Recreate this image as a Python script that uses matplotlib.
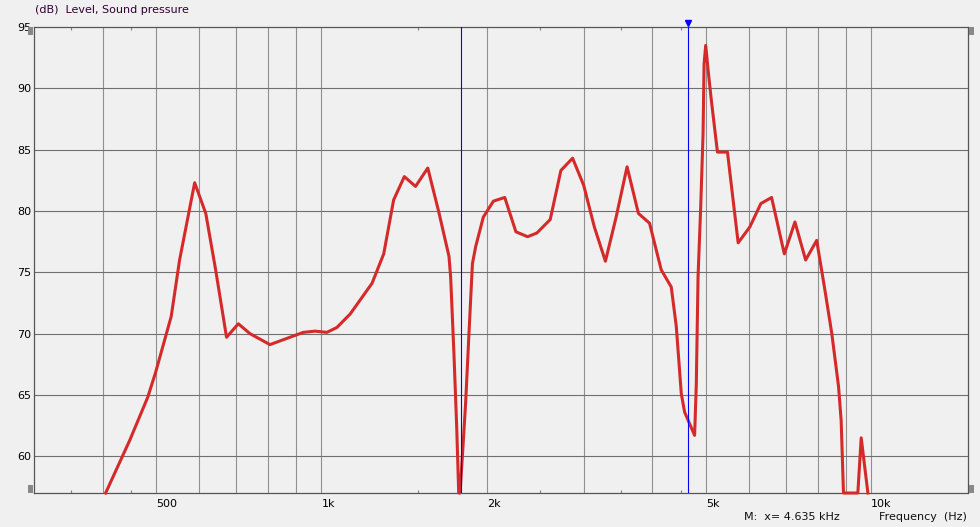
import matplotlib
matplotlib.use("Agg")
import matplotlib.pyplot as plt
from matplotlib.patches import Rectangle

# curve (Hz, dB)
freq_hz = [405, 448, 483, 499, 533, 552, 588, 616, 642, 672, 706, 741, 806, 927, 974,
           1023, 1067, 1128, 1236, 1298, 1353, 1415, 1483, 1561, 1635, 1706, 1718, 1741,
           1762, 1777, 1787, 1804, 1829, 1855, 1882, 1908, 1970, 2055, 2155, 2258, 2371,
           2465, 2607, 2726, 2863, 2999, 3136, 3285, 3436, 3597, 3772, 3952, 4150, 4328,
           4420, 4514, 4577, 4773, 4807, 4842, 4896, 4945, 4966, 5000, 5050, 5120, 5252,
           5477, 5728, 6016, 6299, 6589, 6950, 7266, 7599, 7959, 8241, 8479, 8721, 8818,
           8904, 9456, 9590, 9863]
level_db = [57, 61.3, 64.8, 66.8, 71.4, 76.0, 82.3, 79.8, 75.2, 69.7, 70.8, 70.0, 69.1, 70.1, 70.2,
            70.1, 70.5, 71.6, 74.1, 76.5, 80.9, 82.8, 82.0, 83.5, 79.9, 76.3, 74.6, 68.6,
            62.4, 57, 57, 59.9, 64.3, 70.0, 75.7, 77.1, 79.5, 80.8, 81.1, 78.3, 77.9,
            78.2, 79.3, 83.3, 84.3, 82.1, 78.7, 75.9, 79.5, 83.6, 79.8, 79.0, 75.2, 73.8,
            70.6, 65.1, 63.6, 61.7, 65.9, 74.6, 80.3, 86.3, 92.0, 93.5, 91.5, 89.0, 84.8,
            84.8, 77.4, 78.7, 80.6, 81.1, 76.5, 79.1, 76.0, 77.6, 73.5, 70.0, 65.7, 62.9,
            57, 57, 61.5, 57]

x_labels = {500: "500", 1000: "1k", 2000: "2k", 5000: "5k", 10000: "10k"}
grid_freqs = [400, 500, 600, 700, 800, 900, 1000, 2000, 3000, 4000, 5000,
              6000, 7000, 8000, 9000, 10000]
half_ticks = [350, 450, 1500, 2500, 3500, 4500]
y_ticks = [60, 65, 70, 75, 80, 85, 90, 95]
cursor_a = 1791
cursor_m = 4635

W, H = 980, 527
bg = "#f0f0f0"
fig = plt.figure(figsize=(W / 100, H / 100), dpi=100, facecolor=bg)
ax = fig.add_axes([34 / W, 1 - 493 / H, 934 / W, 466 / H])
ax.set_facecolor(bg)
ax.set_xscale("log")
ax.set_xlim(300, 15000)
ax.set_ylim(57, 95)

for f in grid_freqs:
    ax.axvline(f, color="#909090", lw=0.8, zorder=1)
for y in y_ticks[:-1]:
    ax.axhline(y, color="#707070", lw=0.8, zorder=1)

ax.set_xticks(list(x_labels.keys()), list(x_labels.values()))
ax.set_xticks(half_ticks, [""] * len(half_ticks), minor=True)
for t in ax.get_xticklabels():
    t.set_horizontalalignment("left")
ax.tick_params(axis="x", which="major", length=0, pad=4, labelsize=8)
ax.tick_params(axis="x", which="minor", direction="in", length=2.5, width=0.8,
               color="#808080", top=True, bottom=True)
ax.set_yticks(y_ticks, [str(v) for v in y_ticks])
ax.tick_params(axis="y", length=0, pad=2, labelsize=8)

for s in ax.spines.values():
    s.set_color("#555555")
    s.set_linewidth(0.9)

ax.plot(freq_hz, level_db, color="#d42a2a", lw=2.2, zorder=3, clip_on=False)

ax.axvline(cursor_a, color="#0000ff", lw=0.8, zorder=4)
ax.axvline(cursor_m, color="#0000ff", lw=0.8, zorder=4)
ax.plot([cursor_m], [95.3], marker="v", color="#0000ff", ms=5, clip_on=False, zorder=5)

# little gray handles at the plot corners
for (x0, y0) in [(28, 27), (28, 485), (969, 27), (969, 485)]:
    fig.add_artist(Rectangle((x0 / W, 1 - (y0 + 8) / H), 5 / W, 8 / H,
                             transform=fig.transFigure, color="#888888", lw=0))

fig.text(35 / W, 1 - 10 / H, "(dB)  Level, Sound pressure", fontsize=8,
         color="#300030", va="center", ha="left")
fig.text(744 / W, 1 - 517 / H, "M:  x= 4.635 kHz", fontsize=8, color="#101010",
         va="center", ha="left")
fig.text(967 / W, 1 - 517 / H, "Frequency  (Hz)", fontsize=8, color="#101010",
         va="center", ha="right")

fig.savefig("out.png", dpi=100, facecolor=bg)
